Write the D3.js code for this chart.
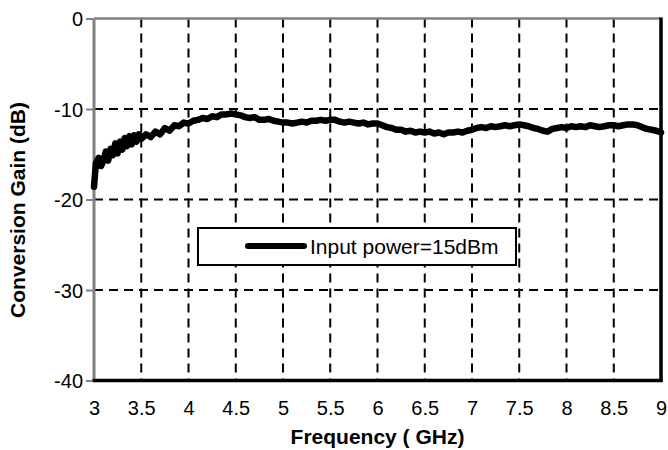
<!DOCTYPE html>
<html><head><meta charset="utf-8">
<script src="https://cdn.jsdelivr.net/npm/d3@7"></script>
<style>
html,body{margin:0;padding:0;background:#fff;}
text{font-family:Arial,"Liberation Sans",sans-serif;fill:#000;}
</style></head>
<body><svg id="c" width="668" height="450"></svg>
<script>
const xTicks = [3,3.5,4,4.5,5,5.5,6,6.5,7,7.5,8,8.5,9];
const yTicks = [0,-10,-20,-30,-40];
const freq = [3.00,3.02,3.05,3.075,3.10,3.125,3.15,3.175,3.20,3.225,3.25,3.275,3.30,3.325,3.35,3.375,3.40,3.425,3.45,3.475,3.50,3.55,3.60,3.65,3.70,3.75,3.80,3.85,3.90,3.95,
4.00,4.05,4.10,4.15,4.20,4.25,4.30,4.35,4.40,4.45,4.50,4.55,4.60,4.65,4.70,4.75,4.80,4.85,4.90,4.95,
5.00,5.05,5.10,5.15,5.20,5.25,5.30,5.35,5.40,5.45,5.50,5.55,5.60,5.65,5.70,5.75,5.80,5.85,5.90,5.95,
6.00,6.05,6.10,6.15,6.20,6.25,6.30,6.35,6.40,6.45,6.50,6.55,6.60,6.65,6.70,6.75,6.80,6.85,6.90,6.95,
7.00,7.05,7.10,7.15,7.20,7.25,7.30,7.35,7.40,7.45,7.50,7.55,7.60,7.65,7.70,7.75,7.80,7.85,7.90,7.95,
8.00,8.05,8.10,8.15,8.20,8.25,8.30,8.35,8.40,8.45,8.50,8.55,8.60,8.65,8.70,8.75,8.80,8.85,8.90,8.95,9.00];
const gain = [-18.6,-16.0,-15.4,-16.3,-15.7,-14.7,-15.7,-14.4,-15.1,-13.8,-14.9,-13.6,-14.5,-13.2,-14.1,-13.0,-13.9,-12.9,-13.6,-12.8,-13.3,-12.8,-13.1,-12.5,-12.8,-12.1,-12.4,-11.8,-11.9,-11.5,
-11.6,-11.3,-11.2,-11.0,-11.1,-10.8,-10.9,-10.6,-10.6,-10.5,-10.6,-10.7,-10.9,-11.0,-10.9,-11.2,-11.2,-11.1,-11.3,-11.4,
-11.5,-11.5,-11.6,-11.5,-11.4,-11.5,-11.3,-11.3,-11.2,-11.3,-11.2,-11.2,-11.4,-11.5,-11.4,-11.5,-11.6,-11.5,-11.7,-11.6,
-11.6,-11.8,-12.0,-12.1,-12.3,-12.3,-12.5,-12.4,-12.6,-12.5,-12.6,-12.5,-12.7,-12.6,-12.8,-12.6,-12.6,-12.5,-12.6,-12.4,
-12.3,-12.1,-12.0,-12.1,-11.9,-12.0,-11.9,-11.8,-11.9,-11.8,-11.7,-11.8,-11.9,-12.1,-12.2,-12.4,-12.5,-12.2,-12.1,-12.0,
-12.1,-11.9,-12.0,-11.9,-12.0,-11.8,-11.9,-12.0,-11.9,-11.8,-11.8,-11.9,-11.8,-11.7,-11.7,-11.8,-12.0,-12.2,-12.3,-12.4,-12.6];
const legendLabel = "Input power=15dBm";

const svg = d3.select("#c");
const L=94, R=661, T=18.5, B=380.5;
const x = d3.scaleLinear().domain([3,9]).range([L,R]);
const y = d3.scaleLinear().domain([-40,0]).range([B,T]);

// grid
svg.append("g").selectAll("line").data(xTicks.filter(d=>d>3&&d<9)).join("line")
  .attr("x1",d=>x(d)).attr("x2",d=>x(d)).attr("y1",T).attr("y2",B)
  .attr("stroke","#000").attr("stroke-width",2).attr("stroke-dasharray","9,6");
svg.append("g").selectAll("line").data(yTicks.filter(d=>d<0&&d>-40)).join("line")
  .attr("x1",L).attr("x2",R).attr("y1",d=>y(d)).attr("y2",d=>y(d))
  .attr("stroke","#000").attr("stroke-width",2).attr("stroke-dasharray","9,6");

// frame
svg.append("line").attr("x1",L).attr("x2",R).attr("y1",T).attr("y2",T).attr("stroke","#808080").attr("stroke-width",2.5);
svg.append("line").attr("x1",L).attr("x2",L).attr("y1",T).attr("y2",B).attr("stroke","#808080").attr("stroke-width",3);
svg.append("line").attr("x1",R).attr("x2",R).attr("y1",T-1).attr("y2",B+1.5).attr("stroke","#000").attr("stroke-width",3.5);
svg.append("line").attr("x1",L-1.5).attr("x2",R+1.5).attr("y1",B).attr("y2",B).attr("stroke","#000").attr("stroke-width",3.5);

// y axis ticks and labels
const yAxis = d3.axisLeft(y).tickValues(yTicks).tickSize(7).tickPadding(3).tickFormat(d=>String(d));
const ga = svg.append("g").attr("transform",`translate(${L-1},0)`).call(yAxis);
ga.select(".domain").remove();
ga.selectAll(".tick line").attr("stroke","#808080").attr("stroke-width",2);
ga.selectAll(".tick text").attr("font-size",20).attr("font-family","Arial, 'Liberation Sans', sans-serif").attr("fill","#000").attr("dy","0.36em");

// x axis labels
const xAxis = d3.axisBottom(x).tickValues(xTicks).tickSize(0).tickPadding(0).tickFormat(d=>String(d));
const gx = svg.append("g").attr("transform",`translate(0,${B})`).call(xAxis);
gx.select(".domain").remove();
gx.selectAll(".tick text").attr("font-size",20).attr("font-family","Arial, 'Liberation Sans', sans-serif").attr("fill","#000").attr("dy",null).attr("y",34.5);

// curve
const line = d3.line().x((d,i)=>x(freq[i])).y(d=>y(d)).curve(d3.curveLinear);
svg.append("path").datum(gain).attr("d",line).attr("fill","none").attr("stroke","#000")
  .attr("stroke-width",6.5).attr("stroke-linejoin","round").attr("stroke-linecap","round");

// legend
const lg = svg.append("g");
lg.append("rect").attr("x",198).attr("y",228).attr("width",318).attr("height",37).attr("fill","#fff").attr("stroke","#000").attr("stroke-width",2);
lg.append("line").attr("x1",248).attr("x2",304).attr("y1",246).attr("y2",246).attr("stroke","#000").attr("stroke-width",6).attr("stroke-linecap","round");
lg.append("text").attr("x",310).attr("y",253.5).attr("font-size",21).text(legendLabel);

// axis titles
svg.append("text").attr("x",(L+R)/2).attr("y",444).attr("text-anchor","middle").attr("font-size",21).attr("font-weight","bold").text("Frequency ( GHz)");
svg.append("text").attr("transform","translate(25,210) rotate(-90)").attr("text-anchor","middle").attr("font-size",21).attr("font-weight","bold").text("Conversion Gain (dB)");
</script></body></html>
